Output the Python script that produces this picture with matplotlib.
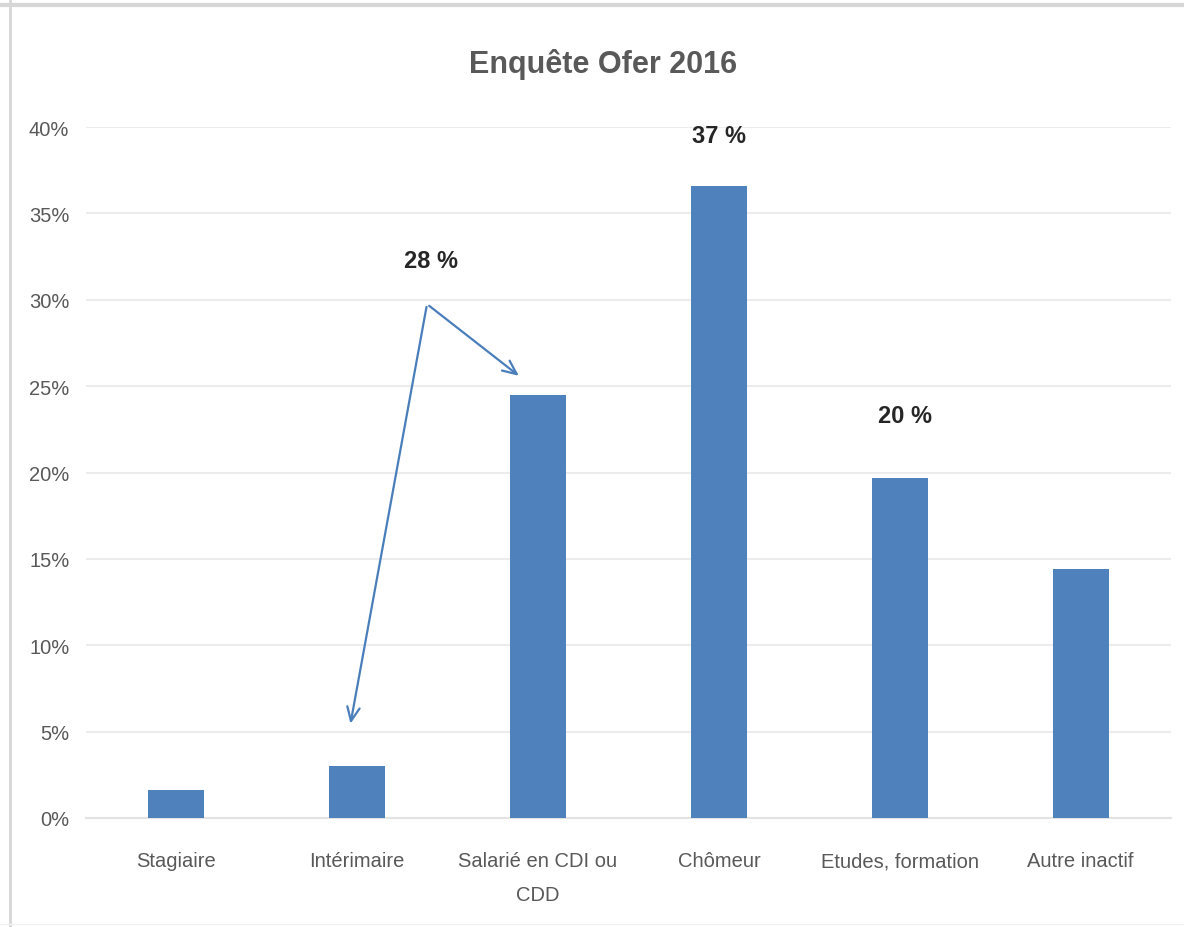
import matplotlib
matplotlib.use('Agg')
import matplotlib.pyplot as plt
from matplotlib.ticker import PercentFormatter
from matplotlib.lines import Line2D

plt.rcParams['font.family'] = ['Liberation Sans Narrow', 'Liberation Sans', 'DejaVu Sans']

categories = ['Stagiaire', 'Intérimaire', 'Salarié en CDI ou\nCDD', 'Chômeur',
              'Etudes, formation', 'Autre inactif']
values = [1.6, 3.0, 24.5, 36.6, 19.7, 14.4]

# annotations typed on the chart by hand
notes = ['37 %', '28 %', '20 %']

barColor = '#4F81BD'
textGray = '#595959'

fig = plt.figure(figsize=(11.84, 9.28), dpi=100)
ax = fig.add_axes([0.0726, 0.1175, 0.9164, 0.7445])

x = range(len(categories))
ax.bar(x, values, width=0.31, color=barColor, zorder=3)

ax.set_xlim(-0.5, len(categories) - 0.5)
ax.set_ylim(0, 40)
ax.set_yticks(range(0, 41, 5))
ax.yaxis.set_major_formatter(PercentFormatter(decimals=0))
ax.grid(axis='y', color='#ECECEC', linewidth=1.5, zorder=0)

ax.set_xticks(list(x))
ax.set_xticklabels(categories, fontsize=14.5, color=textGray, linespacing=2.0)
ax.tick_params(axis='y', labelsize=14.5, labelcolor=textGray, length=0, pad=12)
ax.tick_params(axis='x', length=0, pad=24)

for s in ['top', 'right', 'left']:
    ax.spines[s].set_visible(False)
ax.spines['bottom'].set_color('#E3E3E3')
ax.spines['bottom'].set_linewidth(1.5)

fig.text(0.509, 0.931, 'Enquête Ofer 2016', ha='center', va='center',
         fontsize=22, fontweight='bold', color=textGray)

ax.text(3.0, 39.5, notes[0], ha='center', va='center', fontsize=17,
        fontweight='bold', color='#262626')
ax.text(1.41, 32.3, notes[1], ha='center', va='center', fontsize=17,
        fontweight='bold', color='#262626')
ax.text(4.03, 23.3, notes[2], ha='center', va='center', fontsize=17,
        fontweight='bold', color='#262626')

arrowStyle = dict(arrowstyle='->,head_length=1.0,head_width=0.45',
                  color='#4A7EBB', lw=1.6)
ax.annotate('', xy=(0.96, 5.3), xytext=(1.386, 29.75), arrowprops=arrowStyle)
ax.annotate('', xy=(1.906, 25.5), xytext=(1.386, 29.75), arrowprops=arrowStyle)

# light frame: top and left edges, faint bottom
fig.add_artist(Line2D([0.0, 1.0], [0.994, 0.994], transform=fig.transFigure,
                      color='#D6D6D6', linewidth=3))
fig.add_artist(Line2D([0.0085, 0.0085], [0.0, 1.0], transform=fig.transFigure,
                      color='#D6D6D6', linewidth=2))
fig.add_artist(Line2D([0.0, 1.0], [0.003, 0.003], transform=fig.transFigure,
                      color='#F0F0F0', linewidth=1))

fig.savefig('out.png', dpi=100)
